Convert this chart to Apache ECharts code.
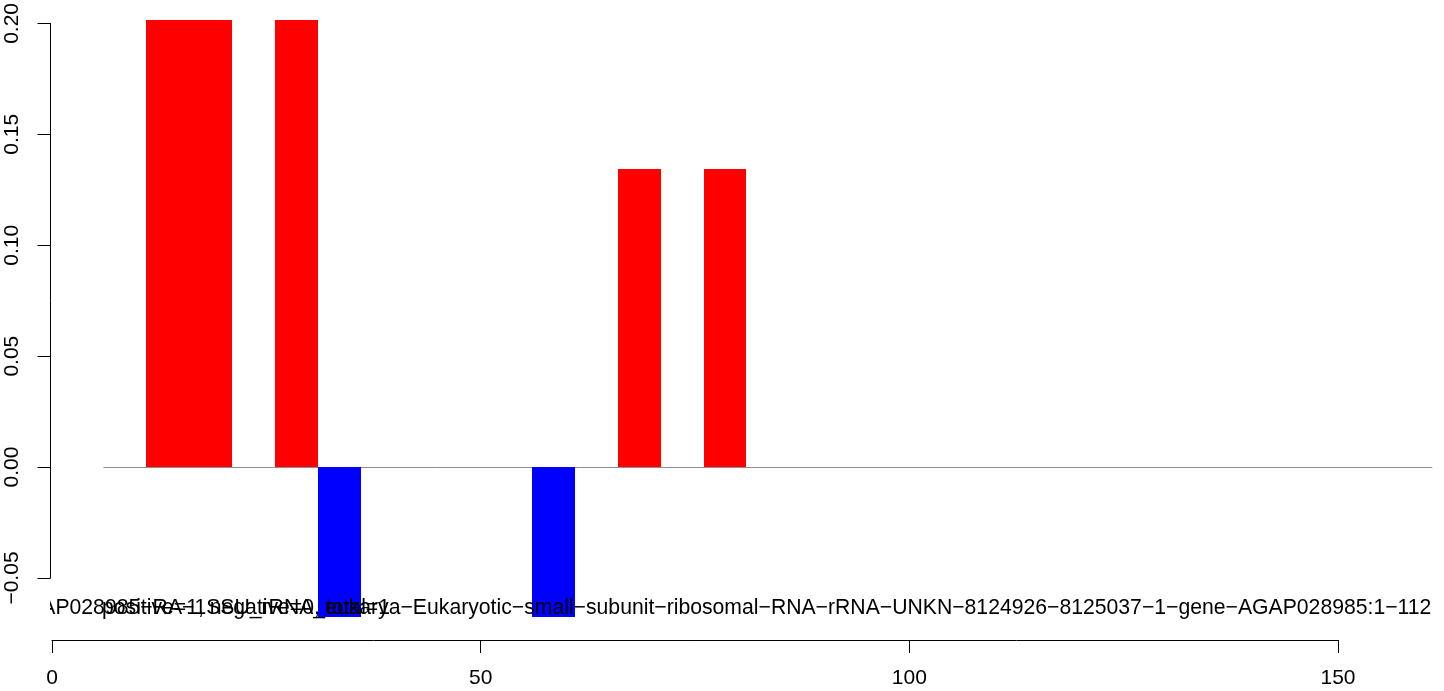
<!DOCTYPE html>
<html><head><meta charset="utf-8">
<script src="https://cdn.jsdelivr.net/npm/echarts@6.0.0/dist/echarts.min.js"></script>
<style>html,body{margin:0;padding:0;background:#fff}#c{width:1444px;height:691px}</style>
</head><body><div id="c"></div>
<script>
// bins: left edge of each bar (width 5) and its value
const binLeft = [6, 11, 16, 21, 26, 31, 36, 41, 46, 51, 56, 61, 66, 71, 76, 81, 86, 91, 96, 101, 106, 111, 116, 121, 126, 131, 136, 141, 146, 151, 156];
const binValue = [0, 0.2017, 0.2017, 0, 0.2017, -0.0675, 0, 0, 0, 0, -0.0675, 0, 0.1344, 0, 0.1344, 0, 0, 0, 0, 0, 0, 0, 0, 0, 0, 0, 0, 0, 0, 0, 0];
const binWidth = 5;
const baselineRange = [6, 161];
const yTicks = [-0.05, 0, 0.05, 0.1, 0.15, 0.2];
const xTicks = [0, 50, 100, 150];
const mainLabel = "AGAP028985\u2212RA\u22121SSU_rRNA_eukarya\u2212Eukaryotic\u2212small\u2212subunit\u2212ribosomal\u2212RNA\u2212rRNA\u2212UNKN\u22128124926\u22128125037\u22121\u2212gene\u2212AGAP028985:1\u2212112";
const countLabel = "positive=1, negative=0, total=1";

const FONT = '"Liberation Sans", Arial, Helvetica, sans-serif';
const chart = echarts.init(document.getElementById('c'), null, {renderer: 'canvas'});
const barData = binLeft.map((l, i) => [l, l + binWidth, binValue[i]]);

chart.setOption({
  animation: false,
  backgroundColor: '#ffffff',
  grid: {left: 52, top: 22, width: 1286, height: 556, containLabel: false},
  xAxis: {
    type: 'value', min: xTicks[0], max: xTicks[xTicks.length - 1], interval: 50,
    position: 'bottom', offset: 62,
    axisLine: {show: true, onZero: false, lineStyle: {color: '#000', width: 1}},
    axisTick: {show: true, length: 13, lineStyle: {color: '#000', width: 1}},
    axisLabel: {fontFamily: FONT, fontSize: 21, color: '#000', margin: 28},
    splitLine: {show: false}
  },
  yAxis: {
    type: 'value', min: yTicks[0], max: yTicks[yTicks.length - 1], interval: 0.05,
    offset: 1.5, z: 50,
    axisLine: {show: true, onZero: false, lineStyle: {color: '#000', width: 1}},
    axisTick: {show: true, length: 13, lineStyle: {color: '#000', width: 1}},
    axisLabel: {fontFamily: FONT, fontSize: 21, color: '#000', rotate: 90, margin: 28,
      formatter: v => v.toFixed(2).replace('-', '\u2212')},
    splitLine: {show: false}
  },
  series: [
    {
      type: 'custom', clip: false, z: 1, silent: true,
      data: [[baselineRange[0], baselineRange[1]]],
      encode: {x: [0, 1]},
      renderItem: function (params, api) {
        const a = api.coord([api.value(0), 0]);
        const b = api.coord([api.value(1), 0]);
        const y = Math.round(a[1]) + 0.5;
        return {type: 'line', shape: {x1: a[0], y1: y, x2: b[0], y2: y},
          style: {stroke: '#8f8f8f', lineWidth: 1}};
      }
    },
    {
      type: 'custom', clip: false, z: 2,
      data: barData,
      encode: {x: [0, 1], y: 2},
      renderItem: function (params, api) {
        const x0 = api.value(0), x1 = api.value(1), v = api.value(2);
        if (v === 0) return null;
        const p0 = api.coord([x0, 0]);
        const p1 = api.coord([x1, v]);
        const xa = Math.round(p0[0]), xb = Math.round(p1[0]);
        const ya = Math.round(Math.min(p0[1], p1[1])), yb = Math.round(Math.max(p0[1], p1[1]));
        return {
          type: 'rect',
          shape: {x: xa, y: ya, width: xb - xa, height: yb - ya},
          style: {fill: v > 0 ? '#FF0000' : '#0000FF'}
        };
      }
    }
  ],
  graphic: [
    {type: 'text', x: 721, y: 608.5, z: 10,
      style: {text: mainLabel, font: '21.2px ' + FONT, fill: '#000', textAlign: 'center', textVerticalAlign: 'middle'}},
    {type: 'text', x: 102, y: 608.5, z: 10,
      style: {text: countLabel, font: '21.2px ' + FONT, fill: '#000', textAlign: 'left', textVerticalAlign: 'middle'}},
    {type: 'rect', z: 11, shape: {x: 0, y: 594, width: 50, height: 28}, style: {fill: '#ffffff'}}
  ]
});
</script>
</body></html>
